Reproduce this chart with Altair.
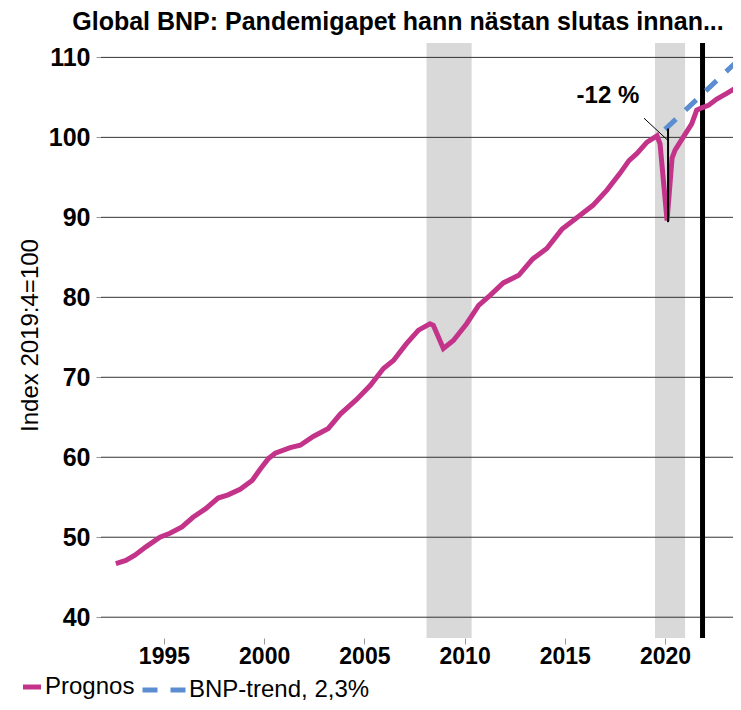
import altair as alt
import pandas as pd

FONT = "Liberation Sans, Arial, sans-serif"
PINK = "#c4338a"
BLUE = "#5b8dd0"

# Prognos series (decimal year, index 2019:4 = 100)
t_prog = [1992.6, 1993.1, 1993.55, 1994.1, 1994.8, 1995.3, 1995.9, 1996.45, 1997.1, 1997.7,
          1998.2, 1998.8, 1999.4, 1999.8, 2000.2, 2000.55, 2001.3, 2001.8, 2002.45, 2003.2,
          2003.8, 2004.6, 2005.3, 2005.95, 2006.45, 2007.1, 2007.7, 2008.27, 2008.44, 2008.94,
          2009.44, 2010.1, 2010.7, 2011.27, 2011.93, 2012.7, 2013.4, 2014.1, 2014.85, 2015.76,
          2016.4, 2017.1, 2017.75, 2018.2, 2018.6, 2019.1, 2019.6, 2019.75, 2020.1, 2020.35,
          2020.5, 2020.9, 2021.33, 2021.58, 2021.83, 2022.16, 2022.58, 2023.08, 2023.6]
v_prog = [46.7, 47.1, 47.75, 48.8, 50.0, 50.5, 51.3, 52.5, 53.6, 54.9,
          55.3, 56.0, 57.1, 58.5, 59.8, 60.5, 61.2, 61.5, 62.6, 63.6,
          65.4, 67.2, 69.0, 71.1, 72.1, 74.2, 75.9, 76.7, 76.5, 73.6,
          74.6, 76.7, 79.0, 80.25, 81.8, 82.75, 84.8, 86.1, 88.5, 90.25,
          91.5, 93.4, 95.5, 97.1, 98.0, 99.4, 100.2, 99.2, 89.6, 97.4,
          98.4, 100.0, 101.7, 103.4, 103.7, 104.0, 104.8, 105.5, 106.3]

# Trend line, 2.3 % per year
t_trend = [2020.0, 2023.8]
v_trend = [101.0, 110.0]

# Recession bands
band_start = [2008.1, 2019.5]
band_end = [2010.35, 2021.0]

# Forecast start line
forecast_x = 2021.87

y_ticks = [40, 50, 60, 70, 80, 90, 100, 110]
x_ticks = [1995, 2000, 2005, 2010, 2015, 2020]

# Annotation
ann_t = [2017.15]
ann_v = [104.25]
ann_text = ["-12 %"]
seg_x = [2018.95, 2020.15]
seg_y = [102.4, 101.1]
seg_x2 = [2020.15, 2020.15]
seg_y2 = [99.6, 89.4]
seg_w = [1.0, 2.0]

prog = pd.DataFrame({"t": t_prog, "v": v_prog, "s": "Prognos"})
trend = pd.DataFrame({"t": t_trend, "v": v_trend, "s": "BNP-trend, 2,3%"})
bands = pd.DataFrame({"start": band_start, "end": band_end})
grid = pd.DataFrame({"v": y_ticks})
ann = pd.DataFrame({"t": ann_t, "v": ann_v, "label": ann_text})
segs = pd.DataFrame({"x": seg_x, "y": seg_y, "x2": seg_x2, "y2": seg_y2, "w": seg_w})

xs = alt.Scale(domain=[1991.86, 2023.39], nice=False, zero=False)
ys = alt.Scale(domain=[37.4, 111.8], nice=False, zero=False)

xaxis = alt.Axis(values=x_ticks, format="d", domain=False, grid=False, ticks=True,
                 tickColor="#999999", tickSize=6, labelFontSize=23, labelFontWeight="bold",
                 labelFont=FONT, labelColor="black", labelPadding=1, title=None)
yaxis = alt.Axis(values=y_ticks, domain=False, grid=False, ticks=True, tickColor="#999999",
                 tickSize=5, labelFontSize=25, labelFontWeight="bold", labelFont=FONT,
                 labelColor="black", labelPadding=6, title="Index 2019:4=100",
                 titleFont=FONT, titleFontSize=24, titleFontWeight="normal", titleColor="black",
                 titleX=-71, titleY=292, titleAngle=-90, titleAlign="center", titleBaseline="middle")

band_layer = alt.Chart(bands).mark_rect(color="#d9d9d9").encode(
    x=alt.X("start:Q", scale=xs, axis=xaxis), x2="end:Q")

grid_layer = alt.Chart(grid).mark_rule(color="#333333", strokeWidth=1).encode(
    y=alt.Y("v:Q", scale=ys, axis=yaxis))

fc_layer = alt.Chart(pd.DataFrame({"t": [forecast_x]})).mark_rule(color="black", strokeWidth=5).encode(
    x=alt.X("t:Q", scale=xs, axis=xaxis))

trend_layer = alt.Chart(trend).mark_line(color=BLUE, strokeWidth=5, clip=True).encode(
    x=alt.X("t:Q", scale=xs, axis=xaxis),
    y=alt.Y("v:Q", scale=ys, axis=yaxis),
    strokeDash=alt.StrokeDash("s:N", scale=alt.Scale(domain=["BNP-trend, 2,3%"], range=[[15, 13]]),
                              legend=alt.Legend(orient="none", legendX=39, legendY=623, title=None,
                                                symbolType="stroke", symbolSize=1849,
                                                symbolStrokeWidth=5, symbolStrokeColor=BLUE,
                                                labelFontSize=24, labelFont=FONT, labelColor="black",
                                                labelOffset=1, labelLimit=400, padding=0)))

prog_layer = alt.Chart(prog).mark_line(strokeWidth=5, clip=True).encode(
    x=alt.X("t:Q", scale=xs, axis=xaxis),
    y=alt.Y("v:Q", scale=ys, axis=yaxis),
    color=alt.Color("s:N", scale=alt.Scale(domain=["Prognos"], range=[PINK]),
                    legend=alt.Legend(orient="none", legendX=-81, legendY=632, title=None,
                                      symbolType="stroke", symbolSize=324, symbolStrokeWidth=5,
                                      labelFontSize=24, labelFont=FONT, labelColor="black",
                                      labelOffset=1, labelLimit=400, padding=0)))

seg_layer = alt.Chart(segs).mark_rule(color="black").encode(
    x=alt.X("x:Q", scale=xs, axis=xaxis), y=alt.Y("y:Q", scale=ys, axis=yaxis),
    x2="x2:Q", y2="y2:Q", strokeWidth=alt.StrokeWidth("w:Q", scale=None))

text_layer = alt.Chart(ann).mark_text(font=FONT, fontSize=24, fontWeight="bold", color="black",
                                      align="center", baseline="alphabetic").encode(
    x=alt.X("t:Q", scale=xs, axis=xaxis), y=alt.Y("v:Q", scale=ys, axis=yaxis), text="label:N")

chart = alt.layer(band_layer, grid_layer, fc_layer, trend_layer, prog_layer, seg_layer, text_layer).properties(
    width=632, height=595,
    padding={"left": 93, "top": 35, "right": 0, "bottom": 64},
    autosize=alt.AutoSizeParams(type="none"),
    title=alt.TitleParams("Global BNP: Pandemigapet hann nästan slutas innan...", font=FONT,
                          fontSize=25, fontWeight="bold", color="black", anchor="middle",
                          frame="group", dx=-19, offset=6),
).configure_view(stroke=None).resolve_legend(color="independent", strokeDash="independent")

chart.save("out.html", embed_options={"renderer": "svg", "actions": False})
